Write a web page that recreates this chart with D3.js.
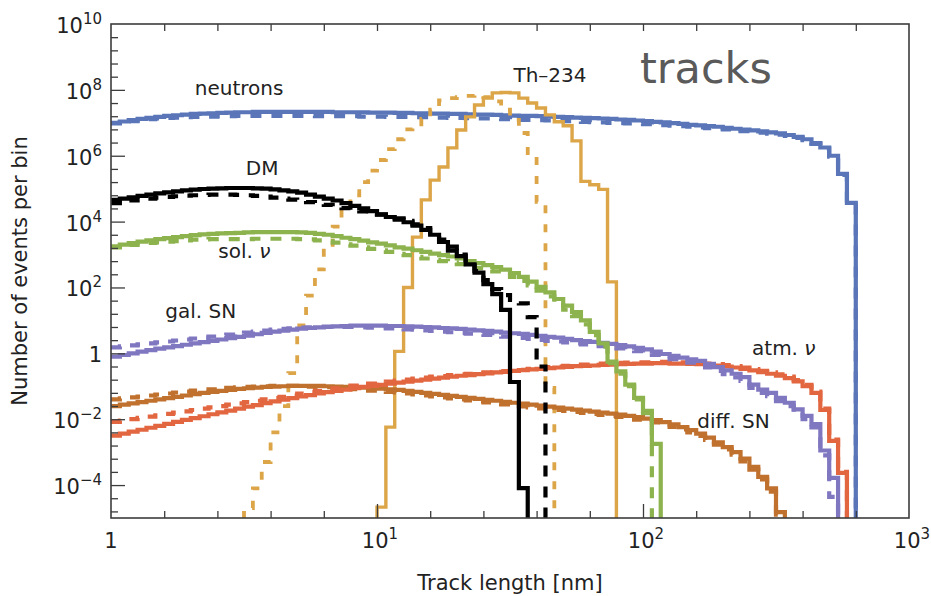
<!DOCTYPE html>
<html>
<head>
<meta charset="utf-8">
<script src="https://cdn.jsdelivr.net/npm/d3@7"></script>
<style>
  body { margin: 0; background: #fff; }
  text { font-family: "DejaVu Sans", sans-serif; }
</style>
</head>
<body>
<svg id="chart" width="931" height="596"></svg>
<script>
// Track-length histograms: log-spaced bins, 30 per decade from 1 nm to 1000 nm.
// Each series holds log10(events per bin), starting at the given bin index.
const binsPerDecade = 30;
const nBins = 90;

const neutronsStart = 0;
const neutronsSolid = [7.0,7.04,7.08,7.12,7.15,7.18,7.21,7.23,7.25,7.27,7.28,7.29,7.30,7.31,7.32,7.32,7.33,7.33,7.33,7.33,
  7.33,7.33,7.33,7.33,7.33,7.32,7.32,7.32,7.32,7.31,7.31,7.31,7.30,7.30,7.29,7.29,7.28,7.28,7.27,7.27,
  7.26,7.25,7.25,7.24,7.23,7.22,7.21,7.21,7.20,7.19,7.18,7.17,7.16,7.15,7.14,7.13,7.12,7.10,7.09,7.07,
  7.05,7.03,7.01,6.99,6.97,6.94,6.92,6.90,6.88,6.85,6.82,6.79,6.77,6.74,6.71,6.68,6.63,6.57,6.50,6.38,
  6.25,6.0,5.45,4.57];
const neutronsDashed = [6.98,7.02,7.05,7.08,7.11,7.13,7.15,7.16,7.17,7.18,7.19,7.19,7.20,7.20,7.21,7.21,7.21,7.21,7.21,7.21,
  7.21,7.21,7.21,7.20,7.20,7.20,7.20,7.20,7.19,7.19,7.19,7.18,7.18,7.18,7.17,7.17,7.16,7.16,7.15,7.15,
  7.14,7.13,7.13,7.12,7.11,7.10,7.09,7.09,7.08,7.07,7.06,7.05,7.04,7.03,7.02,7.01,7.0,6.99,6.98,6.97,
  6.96,6.94,6.93,6.91,6.90,6.88,6.86,6.84,6.82,6.80,6.77,6.75,6.72,6.70,6.67,6.64,6.60,6.54,6.47,6.36,
  6.22,5.97,5.42,4.55];

const thSolidStart = 30;
const thSolid = [-4.67,-2.24,0.06,2.0,3.53,4.66,5.26,5.66,6.24,6.78,7.18,7.54,7.75,7.91,7.92,7.91,7.75,7.60,7.45,7.24,
  7.03,6.91,6.45,5.22,5.12,4.98,2.17];
const thDashedStart = 15;
const thDashed = [-4.7,-4.1,-3.3,-2.4,-1.6,-0.6,0.85,1.75,2.55,3.2,3.85,4.35,4.8,5.2,5.55,5.87,6.2,6.5,6.8,6.95,
  7.12,7.4,7.68,7.75,7.78,7.82,7.85,7.78,7.65,7.4,7.09,6.69,6.0,4.6,-1.05];

const dmStart = 0;
const dmSolid = [4.66,4.70,4.74,4.78,4.82,4.86,4.89,4.92,4.95,4.97,4.99,5.0,5.01,5.02,5.02,5.02,5.01,5.0,4.98,4.95,
  4.92,4.88,4.82,4.76,4.70,4.64,4.56,4.48,4.40,4.32,4.22,4.14,4.06,3.98,3.88,3.75,3.60,3.38,3.12,2.95,
  2.70,2.45,2.10,1.80,1.32,-0.87,-4.09];
const dmDashed = [4.56,4.60,4.64,4.67,4.70,4.73,4.75,4.77,4.79,4.80,4.81,4.82,4.82,4.82,4.81,4.80,4.78,4.76,4.73,4.70,
  4.67,4.63,4.59,4.55,4.51,4.46,4.41,4.36,4.31,4.26,4.21,4.16,4.10,4.02,3.92,3.80,3.64,3.45,3.24,3.0,
  2.75,2.50,2.22,1.95,1.77,1.62,1.52,1.10,-0.4];

const solStart = 0;
const solSolid = [3.25,3.30,3.35,3.39,3.43,3.47,3.50,3.53,3.56,3.59,3.61,3.63,3.64,3.65,3.66,3.67,3.68,3.68,3.68,3.68,
  3.68,3.67,3.66,3.63,3.60,3.56,3.51,3.47,3.42,3.37,3.33,3.28,3.22,3.18,3.13,3.08,3.03,2.98,2.94,2.88,
  2.80,2.74,2.68,2.62,2.54,2.44,2.32,2.18,2.02,1.85,1.65,1.45,1.25,1.0,0.65,0.3,-0.25,-0.55,-0.95,-1.35,
  -1.75,-2.75];
const solDashed = [3.22,3.26,3.29,3.32,3.35,3.37,3.39,3.41,3.43,3.45,3.46,3.47,3.47,3.47,3.47,3.47,3.48,3.48,3.48,3.48,
  3.48,3.47,3.46,3.43,3.40,3.36,3.31,3.27,3.22,3.17,3.13,3.08,3.02,2.98,2.93,2.88,2.84,2.80,2.76,2.71,
  2.64,2.59,2.54,2.49,2.42,2.32,2.20,2.06,1.90,1.73,1.53,1.33,1.13,0.88,0.55,0.2,-0.3,-0.62,-1.0,-1.4,
  -1.82];

const galStart = 0;
const galSolid = [-0.1,-0.05,0.0,0.05,0.1,0.14,0.18,0.22,0.26,0.30,0.34,0.38,0.42,0.46,0.50,0.54,0.58,0.62,0.66,0.69,
  0.72,0.75,0.77,0.79,0.81,0.82,0.83,0.84,0.84,0.84,0.84,0.83,0.83,0.82,0.81,0.80,0.79,0.77,0.76,0.74,
  0.72,0.70,0.68,0.66,0.63,0.61,0.59,0.56,0.53,0.50,0.48,0.44,0.40,0.37,0.35,0.32,0.29,0.25,0.21,0.17,
  0.12,0.05,-0.02,-0.08,-0.13,-0.18,-0.23,-0.32,-0.42,-0.52,-0.62,-0.72,-0.95,-1.1,-1.2,-1.35,-1.5,-1.7,-1.9,-2.15,
  -2.95,-3.78];
const galDashed = [0.18,0.21,0.24,0.27,0.30,0.33,0.36,0.39,0.42,0.45,0.48,0.51,0.54,0.57,0.60,0.63,0.66,0.69,0.72,0.74,
  0.76,0.78,0.79,0.80,0.80,0.80,0.80,0.80,0.79,0.78,0.77,0.76,0.75,0.73,0.72,0.70,0.68,0.66,0.64,0.62,
  0.60,0.58,0.56,0.54,0.51,0.49,0.47,0.44,0.41,0.38,0.36,0.33,0.30,0.27,0.25,0.22,0.19,0.15,0.11,0.07,
  0.02,-0.05,-0.12,-0.18,-0.23,-0.28,-0.34,-0.43,-0.53,-0.63,-0.73,-0.84,-1.05,-1.2,-1.3,-1.45,-1.6,-1.8,-2.0,-2.25,
  -3.1,-4.36];

const atmStart = 0;
const atmSolid = [-2.5,-2.44,-2.38,-2.32,-2.26,-2.2,-2.14,-2.08,-2.02,-1.97,-1.91,-1.85,-1.79,-1.74,-1.68,-1.62,-1.57,-1.51,-1.46,-1.41,
  -1.36,-1.31,-1.27,-1.22,-1.18,-1.14,-1.10,-1.06,-1.02,-0.99,-0.96,-0.92,-0.89,-0.86,-0.83,-0.80,-0.77,-0.74,-0.71,-0.68,
  -0.66,-0.63,-0.61,-0.58,-0.56,-0.53,-0.51,-0.49,-0.47,-0.45,-0.43,-0.41,-0.39,-0.38,-0.37,-0.35,-0.34,-0.33,-0.32,-0.31,
  -0.31,-0.30,-0.30,-0.31,-0.31,-0.32,-0.33,-0.35,-0.37,-0.40,-0.43,-0.47,-0.52,-0.57,-0.62,-0.68,-0.75,-0.85,-1.0,-1.2,
  -1.72,-2.66,-3.63];
const atmDashed = [-2.08,-2.04,-2.0,-1.96,-1.92,-1.88,-1.84,-1.80,-1.76,-1.72,-1.68,-1.64,-1.60,-1.56,-1.52,-1.48,-1.44,-1.40,-1.36,-1.32,
  -1.28,-1.22,-1.18,-1.14,-1.10,-1.06,-1.02,-0.98,-0.95,-0.92,-0.89,-0.86,-0.83,-0.80,-0.77,-0.74,-0.71,-0.69,-0.66,-0.64,
  -0.62,-0.60,-0.58,-0.56,-0.54,-0.52,-0.50,-0.47,-0.45,-0.42,-0.40,-0.38,-0.36,-0.34,-0.33,-0.31,-0.30,-0.29,-0.28,-0.27,
  -0.27,-0.26,-0.26,-0.27,-0.27,-0.28,-0.29,-0.31,-0.33,-0.36,-0.39,-0.43,-0.48,-0.53,-0.58,-0.64,-0.71,-0.81,-0.96,-1.16,
  -1.68,-2.62,-3.6];

const diffStart = 0;
const diffSolid = [-1.6,-1.56,-1.52,-1.48,-1.44,-1.40,-1.36,-1.32,-1.28,-1.24,-1.20,-1.17,-1.14,-1.11,-1.08,-1.06,-1.04,-1.02,-1.01,-1.0,
  -0.99,-0.99,-0.99,-0.99,-1.0,-1.01,-1.02,-1.03,-1.04,-1.05,-1.07,-1.09,-1.11,-1.14,-1.17,-1.20,-1.23,-1.26,-1.29,-1.32,
  -1.35,-1.38,-1.41,-1.44,-1.47,-1.50,-1.53,-1.56,-1.59,-1.62,-1.65,-1.68,-1.71,-1.74,-1.77,-1.80,-1.83,-1.86,-1.90,-1.94,
  -1.98,-2.03,-2.09,-2.16,-2.24,-2.33,-2.44,-2.56,-2.70,-2.85,-3.0,-3.2,-3.45,-3.75,-4.1,-4.82];
const diffDashed = [-1.4,-1.37,-1.34,-1.31,-1.28,-1.25,-1.22,-1.19,-1.16,-1.13,-1.11,-1.09,-1.07,-1.05,-1.03,-1.02,-1.01,-1.0,-0.99,-0.99,
  -0.99,-1.0,-1.01,-1.02,-1.03,-1.05,-1.07,-1.09,-1.11,-1.13,-1.15,-1.17,-1.19,-1.22,-1.25,-1.28,-1.31,-1.34,-1.37,-1.40,
  -1.43,-1.46,-1.49,-1.52,-1.55,-1.58,-1.61,-1.64,-1.67,-1.70,-1.72,-1.75,-1.78,-1.81,-1.84,-1.87,-1.90,-1.93,-1.97,-2.01,
  -2.05,-2.10,-2.16,-2.23,-2.31,-2.40,-2.51,-2.63,-2.77,-2.92,-3.08,-3.28,-3.53,-3.83,-4.2,-4.9];

// Axis ticks (decade exponents)
const xMajorExps = [0, 1, 2, 3];
const yMajorExps = [10, 8, 6, 4, 2, 0, -2, -4];

// Annotations: [text, x (nm), y (events per bin), anchor]
const labels = [
  ["neutrons", 3.03, 7.0e7, "middle"],
  ["Th\u2013234", 44.7, 1.74e8, "middle"],
  ["DM", 3.7, 2.6e5, "middle"],
  ["gal. SN", 1.6, 11.7, "start"],
  ["diff. SN", 160, 5.4e-3, "start"]
];
const nuLabels = [
  ["sol. ", 2.53, 7.9e2, "start"],
  ["atm. ", 257, 0.89, "start"]
];

const colors = {
  neutrons: "#5a76b8", th: "#dca548", dm: "#000000", sol: "#8db34e",
  gal: "#8077c1", atm: "#e2663f", diff: "#c0712e"
};

// ---- layout ----
const L = 111, R = 909, T = 24, B = 518;
const svg = d3.select("#chart");
svg.append("rect").attr("width", 931).attr("height", 596).attr("fill", "#fff");

const x = d3.scaleLog().domain([1, 1000]).range([L, R]);
const y = d3.scaleLog().domain([1e-5, 1e10]).range([B, T]);

const edges = d3.range(nBins + 1).map(i => Math.pow(10, i / binsPerDecade));
const floorVal = 1e-8;

svg.append("defs").append("clipPath").attr("id", "plotClip")
  .append("rect").attr("x", L).attr("y", T).attr("width", R - L).attr("height", B - T);

const series = [
  { v: neutronsSolid, s: neutronsStart, c: colors.neutrons, dash: null, w: 4.2 },
  { v: neutronsDashed, s: neutronsStart, c: colors.neutrons, dash: "11,10", w: 4.2 },
  { v: thDashed, s: thDashedStart, c: colors.th, dash: "8,11", w: 3.8 },
  { v: thSolid, s: thSolidStart, c: colors.th, dash: null, w: 3.4 },
  { v: diffSolid, s: diffStart, c: colors.diff, dash: null, w: 4.2 },
  { v: diffDashed, s: diffStart, c: colors.diff, dash: "11,10", w: 4.2 },
  { v: atmSolid, s: atmStart, c: colors.atm, dash: null, w: 4.2 },
  { v: atmDashed, s: atmStart, c: colors.atm, dash: "11,10", w: 4.2 },
  { v: galSolid, s: galStart, c: colors.gal, dash: null, w: 4.2 },
  { v: galDashed, s: galStart, c: colors.gal, dash: "11,10", w: 4.2 },
  { v: solSolid, s: solStart, c: colors.sol, dash: null, w: 4.2 },
  { v: solDashed, s: solStart, c: colors.sol, dash: "11,10", w: 4.2 },
  { v: dmSolid, s: dmStart, c: colors.dm, dash: null, w: 4.2 },
  { v: dmDashed, s: dmStart, c: colors.dm, dash: "11,10", w: 4.2 }
];

function stepPoints(vals, start) {
  const pts = [];
  if (start > 0) pts.push([edges[start], floorVal]);
  vals.forEach((lv, k) => {
    const val = Math.pow(10, lv);
    pts.push([edges[start + k], val]);
    pts.push([edges[start + k + 1], val]);
  });
  pts.push([edges[start + vals.length], floorVal]);
  return pts;
}

const line = d3.line()
  .x(d => x(d[0]))
  .y(d => Math.min(y(d[1]), B + 20));

const plot = svg.append("g").attr("clip-path", "url(#plotClip)");
series.forEach(sr => {
  plot.append("path")
    .attr("d", line(stepPoints(sr.v, sr.s)))
    .attr("fill", "none")
    .attr("stroke", sr.c)
    .attr("stroke-width", sr.w)
    .attr("stroke-linejoin", "miter")
    .attr("stroke-dasharray", sr.dash);
});

// ---- axes ----
const axisColor = "#3c3c3c";
const xMinor = d3.range(1, 15).filter(k => k % 5 !== 0).map(k => Math.pow(10, k / 5));
const xMajor = xMajorExps.map(e => Math.pow(10, e));
const yMinor = d3.range(1, 38).map(k => 10 - 0.4 * k)
  .filter(e => Math.abs(e - Math.round(e / 2) * 2) > 1e-6 && e > -5).map(e => Math.pow(10, e));
const yMajor = yMajorExps.map(e => Math.pow(10, e));

function styleAxis(g) {
  g.select(".domain").remove();
  g.selectAll(".tick line").attr("stroke", axisColor).attr("stroke-width", 1.3);
  g.selectAll(".tick text").remove();
}

svg.append("g").attr("transform", `translate(0,${B})`)
  .call(d3.axisBottom(x).tickValues(xMajor.slice(1, 3)).tickSize(-14).tickFormat(() => "")).call(styleAxis);
svg.append("g").attr("transform", `translate(0,${B})`)
  .call(d3.axisBottom(x).tickValues(xMinor).tickSize(-7).tickFormat(() => "")).call(styleAxis);
svg.append("g").attr("transform", `translate(0,${T})`)
  .call(d3.axisTop(x).tickValues(xMinor.concat(xMajor.slice(1, 3))).tickSize(-7).tickFormat(() => "")).call(styleAxis);
svg.append("g").attr("transform", `translate(${L},0)`)
  .call(d3.axisLeft(y).tickValues(yMajor.slice(1)).tickSize(-14).tickFormat(() => "")).call(styleAxis);
svg.append("g").attr("transform", `translate(${L},0)`)
  .call(d3.axisLeft(y).tickValues(yMinor).tickSize(-7).tickFormat(() => "")).call(styleAxis);

svg.append("rect")
  .attr("x", L).attr("y", T).attr("width", R - L).attr("height", B - T)
  .attr("fill", "none").attr("stroke", axisColor).attr("stroke-width", 1.6);

// tick labels with superscript exponents
function powerLabel(sel, e) {
  if (e === 0) { sel.text("1"); return; }
  sel.append("tspan").text("10");
  sel.append("tspan").attr("dy", -9).attr("font-size", 15)
    .text(String(e).replace("-", "\u2212"));
}

yMajorExps.forEach(e => {
  const t = svg.append("text")
    .attr("x", 102).attr("y", y(Math.pow(10, e)) + 9)
    .attr("text-anchor", "end").attr("font-size", 21).attr("fill", "#222");
  powerLabel(t, e);
});
xMajorExps.forEach(e => {
  const t = svg.append("text")
    .attr("x", x(Math.pow(10, e)) + (e === 0 ? 0 : 3)).attr("y", 548)
    .attr("text-anchor", "middle").attr("font-size", 21).attr("fill", "#222");
  powerLabel(t, e);
});

// axis titles
svg.append("text").attr("x", (L + R) / 2).attr("y", 590)
  .attr("text-anchor", "middle").attr("font-size", 21).attr("fill", "#222")
  .text("Track length [nm]");
svg.append("text").attr("transform", `translate(27,${(T + B) / 2}) rotate(-90)`)
  .attr("text-anchor", "middle").attr("font-size", 21).attr("fill", "#222")
  .text("Number of events per bin");

// curve annotations
labels.forEach(([txt, xv, yv, anchor]) => {
  svg.append("text").attr("x", x(xv)).attr("y", y(yv))
    .attr("text-anchor", anchor).attr("font-size", 20).attr("fill", "#222").text(txt);
});
nuLabels.forEach(([txt, xv, yv, anchor]) => {
  const t = svg.append("text").attr("x", x(xv)).attr("y", y(yv))
    .attr("text-anchor", anchor).attr("font-size", 20).attr("fill", "#222");
  t.append("tspan").text(txt);
  t.append("tspan").attr("font-style", "italic").text("\u03bd");
});

svg.append("text").attr("x", 640).attr("y", 83)
  .attr("font-family", "'Liberation Sans', Arial, sans-serif")
  .attr("font-size", 43).attr("fill", "#5a5a5a").text("tracks");
</script>
</body>
</html>
